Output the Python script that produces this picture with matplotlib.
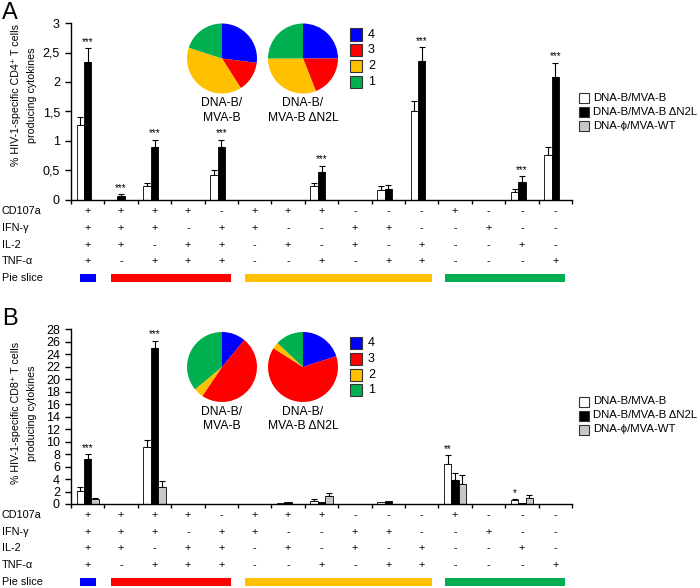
import matplotlib
matplotlib.use('Agg')
import matplotlib.pyplot as plt
import matplotlib.transforms as mtransforms
from matplotlib.patches import Rectangle
from matplotlib.ticker import FuncFormatter
import numpy as np

plt.rcParams['font.family'] = ['Liberation Sans', 'DejaVu Sans']

# cytokine combinations (CD107a, IFN-g, IL-2, TNF-a)
markers = ['CD107a', 'IFN-γ', 'IL-2', 'TNF-α']
combos = ['++++', '+++-', '++-+', '+-++', '-+++', '++--', '+-+-', '+--+',
          '-++-', '-+-+', '--++', '+---', '-+--', '--+-', '---+']
series = ['DNA-B/MVA-B', 'DNA-B/MVA-B ΔN2L', 'DNA-ϕ/MVA-WT']
series_colors = ['white', 'black', '#c8c8c8']

# panel A: CD4
cd4_vals = [
    [1.27, 0, 0.24, 0, 0.43, 0, 0, 0.23, 0, 0.17, 1.50, 0, 0, 0.14, 0.77],
    [2.34, 0.07, 0.89, 0, 0.89, 0, 0, 0.47, 0, 0.19, 2.36, 0, 0, 0.31, 2.08],
    [0, 0, 0, 0, 0, 0, 0, 0, 0, 0, 0, 0, 0, 0, 0],
]
cd4_err = [
    [0.14, 0, 0.05, 0, 0.08, 0, 0, 0.05, 0, 0.06, 0.17, 0, 0, 0.05, 0.13],
    [0.23, 0.03, 0.13, 0, 0.13, 0, 0, 0.11, 0, 0.06, 0.23, 0, 0, 0.09, 0.25],
    [0, 0, 0, 0, 0, 0, 0, 0, 0, 0, 0, 0, 0, 0, 0],
]
cd4_stars = [(0, '***', 1), (1, '***', 1), (2, '***', 1), (4, '***', 1),
             (7, '***', 1), (10, '***', 1), (13, '***', 1), (14, '***', 1)]

# panel B: CD8
cd8_vals = [
    [2.1, 0, 9.2, 0, 0, 0, 0.2, 0.5, 0, 0.3, 0, 6.4, 0, 0.65, 0],
    [7.2, 0, 25.0, 0, 0, 0, 0.3, 0.3, 0, 0.5, 0, 3.9, 0, 0.2, 0],
    [0.75, 0, 2.7, 0, 0, 0, 0, 1.3, 0, 0, 0, 3.2, 0, 0.9, 0],
]
cd8_err = [
    [0.6, 0, 1.05, 0, 0, 0, 0, 0.35, 0, 0, 0, 1.4, 0, 0.15, 0],
    [0.8, 0, 1.2, 0, 0, 0, 0, 0, 0, 0, 0, 1.0, 0, 0, 0],
    [0.25, 0, 1.05, 0, 0, 0, 0, 0.5, 0, 0, 0, 1.5, 0, 0.5, 0],
]
cd8_stars = [(0, '***', 1), (2, '***', 1), (11, '**', 0), (13, '*', 0)]

# pie slices (4, 3, 2, 1 functions)
pie_names = ['4', '3', '2', '1']
pie_colors = ['#0000ff', '#ff0000', '#ffc000', '#00b050']
slice_groups = [(0, 0), (1, 4), (5, 10), (11, 14)]
pie_cd4 = [[27, 14, 39, 20], [25, 19, 31, 25]]
pie_cd8 = [[11, 48.5, 4.5, 36], [20, 64, 3, 13]]
pie_titles = ['DNA-B/\nMVA-B', 'DNA-B/\nMVA-B ΔN2L']

W, H = 700, 588
fig = plt.figure(figsize=(7, 5.88), dpi=100)


def fx(px):
    return px / W


def fy(py):
    return 1 - py / H


def panel(letter, top, bottom, ymax, ystep, vals, errs, stars, pies,
          rows_y, ylabel, ylabel_y, pie_y, leg_y, fmt):
    ax = fig.add_axes([fx(71), fy(bottom), (572 - 71) / W, (bottom - top) / H])
    x = np.arange(len(combos))
    w = 0.22
    for j in range(3):
        v = np.array(vals[j])
        e = np.array(errs[j])
        ax.bar(x + (j - 1) * w, v, w, color=series_colors[j],
               edgecolor='black', linewidth=0.6, zorder=2)
        m = e > 0
        ax.errorbar(x[m] + (j - 1) * w, v[m], yerr=[np.zeros(m.sum()), e[m]],
                    fmt='none', ecolor='black', elinewidth=0.8,
                    capsize=2.2, capthick=0.8, zorder=1)
    for i, s, j in stars:
        ax.annotate(s, (i + (j - 1) * w, vals[j][i] + errs[j][i]),
                    xytext=(0, 1), textcoords='offset points',
                    ha='center', va='bottom', fontsize=7)

    ax.set_ylim(0, ymax)
    ax.set_yticks(np.arange(0, ymax + ystep / 2, ystep))
    ax.yaxis.set_major_formatter(FuncFormatter(fmt))
    ax.set_xticks(np.arange(-0.5, len(combos), 1))
    ax.set_xticklabels([])
    ax.spines['top'].set_visible(False)
    ax.spines['right'].set_visible(False)
    ax.spines['left'].set_linewidth(1)
    ax.spines['bottom'].set_linewidth(1)
    ax.tick_params(axis='y', direction='out', length=4, width=1, labelsize=9, pad=4)
    ax.tick_params(axis='x', direction='out', length=3, width=1)

    fig.text(fx(24), fy(ylabel_y), ylabel, rotation=90, ha='center',
             va='center', multialignment='center', fontsize=7.7,
             linespacing=1.7)
    fig.text(fx(2), fy(top - 21), letter, fontsize=17, va='top', ha='left')

    # combination table
    trans = mtransforms.blended_transform_factory(ax.transData, fig.transFigure)
    for r, mk in enumerate(markers):
        fig.text(fx(2), fy(rows_y[r]), mk, fontsize=7.8, va='center', ha='left')
        for i, c in enumerate(combos):
            ax.text(i, fy(rows_y[r]), c[r], transform=trans, ha='center',
                    va='center', fontsize=7.8, clip_on=False)
    fig.text(fx(2), fy(rows_y[4]), 'Pie slice', fontsize=7.8, va='center', ha='left')
    bh = 8 / H
    for (a, b), col in zip(slice_groups, pie_colors):
        pad = 0.24 if a == b else 0.3
        ax.add_patch(Rectangle((a - pad, fy(rows_y[4]) - bh / 2), b - a + 2 * pad, bh,
                               transform=trans, facecolor=col, edgecolor='none',
                               clip_on=False))
    ax.set_xlim(-0.5, len(combos) - 0.5)

    # pies
    r = 35
    for k, (cx, data) in enumerate(zip([222, 303], pies)):
        pax = fig.add_axes([fx(cx - r), fy(pie_y + r), 2 * r / W, 2 * r / H])
        pax.pie(data, colors=pie_colors, startangle=90, counterclock=False,
                wedgeprops=dict(linewidth=0))
        pax.set_xlim(-1, 1)
        pax.set_ylim(-1, 1)
        pax.set_aspect('equal')
        fig.text(fx(cx), fy(pie_y + 52), pie_titles[k], ha='center',
                 va='center', multialignment='center', fontsize=8.7,
                 linespacing=1.25)

    # pie legend
    for k, (nm, col) in enumerate(zip(pie_names, pie_colors)):
        cy = pie_y - 24 + k * 15.8
        fig.add_artist(Rectangle((fx(350), fy(cy + 6)), 12 / W, 12 / H,
                                 transform=fig.transFigure, facecolor=col,
                                 edgecolor='#333333', linewidth=0.8))
        fig.text(fx(368), fy(cy), nm, fontsize=9, va='center', ha='left')

    # series legend
    for k, (nm, col) in enumerate(zip(series, series_colors)):
        cy = leg_y + k * 14
        fig.add_artist(Rectangle((fx(579), fy(cy + 5)), 10 / W, 10 / H,
                                 transform=fig.transFigure, facecolor=col,
                                 edgecolor='#333333', linewidth=0.8))
        fig.text(fx(593), fy(cy), nm, fontsize=8.2, va='center', ha='left')
    return ax


panel('A', 23, 200, 3, 0.5, cd4_vals, cd4_err, cd4_stars, pie_cd4,
      [211, 228, 245, 261, 278],
      '% HIV-1-specific CD4⁺ T cells\nproducing cytokines', 95, 58.5, 98,
      lambda v, _: f'{v:g}'.replace('.', ','))
panel('B', 329.3, 504, 28, 2, cd8_vals, cd8_err, cd8_stars, pie_cd8,
      [515, 532, 548, 565, 582],
      '% HIV-1-specific CD8⁺ T cells\nproducing cytokines', 413, 367, 401.5,
      lambda v, _: f'{v:g}')

fig.savefig('out.png', dpi=100)
